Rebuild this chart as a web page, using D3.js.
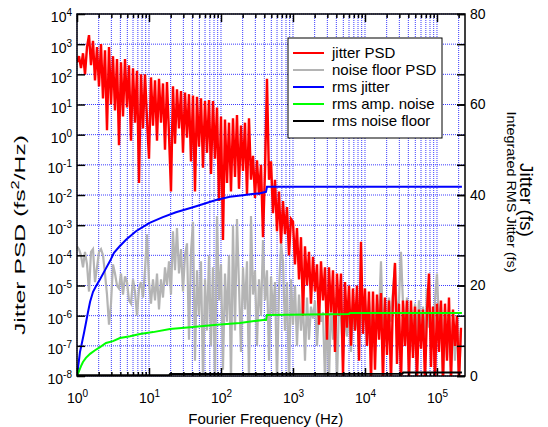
<!DOCTYPE html>
<html lang="en">
<head>
<meta charset="UTF-8">
<title>Jitter PSD</title>
<script src="https://d3js.org/d3.v7.min.js"></script>
<style>
  body { margin: 0; background: #fff; }
  svg text { font-family: "Liberation Sans", Arial, sans-serif; fill: #000; }
</style>
</head>
<body>
<div id="chart"></div>
<script>
// frequency grid (Hz) shared by both PSD traces
const freqHz = [
  1, 1.066, 1.136, 1.212, 1.292, 1.377, 1.468, 1.565, 1.668, 1.778, 1.896, 2.021, 2.154, 2.297, 2.448, 2.61, 2.783, 2.967, 3.162, 3.372, 3.594, 3.831, 4.084, 4.354, 4.642, 4.949, 5.275, 5.623, 5.995, 6.391, 6.813, 7.264, 7.743, 8.254, 8.799, 9.381,
  10, 10.66, 11.36, 12.12, 12.92, 13.77, 14.68, 15.65, 16.68, 17.78, 18.96, 20.21, 21.54, 22.97, 24.48, 26.1, 27.83, 29.67, 31.62, 33.72, 35.94, 38.31, 40.84, 43.54, 46.42, 49.49, 52.75, 56.23, 59.95, 63.91, 68.13, 72.64, 77.43, 82.54, 87.99, 93.81,
  100, 106.6, 113.6, 121.2, 129.2, 137.7, 146.8, 156.5, 166.8, 177.8, 189.6, 202.1, 215.4, 229.7, 244.8, 261, 278.3, 296.7, 316.2, 337.2, 359.4, 383.1, 408.4, 435.4, 464.2, 494.9, 527.5, 562.3, 599.5, 639.1, 681.3, 726.4, 774.3, 825.4, 879.9, 938.1,
  1000, 1066, 1136, 1212, 1292, 1377, 1468, 1565, 1668, 1778, 1896, 2021, 2154, 2297, 2448, 2610, 2783, 2967, 3162, 3372, 3594, 3831, 4084, 4354, 4642, 4949, 5275, 5623, 5995, 6391, 6813, 7264, 7743, 8254, 8799, 9381,
  10000, 10660, 11360, 12120, 12920, 13770, 14680, 15650, 16680, 17780, 18960, 20210, 21540, 22970, 24480, 26100, 27830, 29670, 31620, 33720, 35940, 38310, 40840, 43540, 46420, 49490, 52750, 56230, 59950, 63910, 68130, 72640, 77430, 82540, 87990, 93810,
  1e5, 1.066e5, 1.136e5, 1.212e5, 1.292e5, 1.377e5, 1.468e5, 1.565e5, 1.668e5, 1.778e5, 1.896e5, 2.021e5, 2.154e5
];

// jitter PSD (fs^2/Hz)
const jitterPsd = [
  2.5e2, 4e2, 1.6e2, 5e2, 1e2, 8e2, 2e3, 2e2, 1.3e3, 63, 8e2, 40, 1e3, 16, 6.3e2, 1.4, 8e2, 10, 4e2, 6.3, 3.2e2, 0.45, 2.5e2, 4, 3.2e2, 8, 2e2, 0.63, 1.6e2, 2.5, 1.3e2, 0.025, 1e2, 1.6, 1e2, 3.2,
  0.16, 79, 2, 63, 0.63, 71, 2.5, 50, 0.32, 56, 1, 0.013, 40, 0.5, 32, 1.6, 28, 0.25, 25, 0.8, 22, 0.13, 20, 0.013, 18, 0.4, 16, 0.08, 13, 0.25, 14, 0.05, 13, 0.16, 8, 0.0063,
  4, 3.2e-4, 3.2, 0.025, 2.5, 0.013, 3.5, 0.04, 4.5, 0.016, 2, 0.063, 2.5, 0.01, 3.5, 0.032, 0.2, 0.008, 0.14, 0.01, 0.1, 4e-4, 0.063, 71, 0.032, 0.13, 2.5e-3, 0.032, 6.3e-4, 0.013, 2.5e-4, 6.3e-3, 5e-4, 4e-3, 1e-4, 1.6e-3,
  1.3e-3, 5e-5, 8e-4, 1.6e-5, 4e-4, 1e-6, 2e-4, 1e-5, 1.3e-4, 2.5e-6, 9e-5, 6.3e-6, 5e-5, 5e-7, 6.3e-5, 3.2e-6, 4e-5, 1.6e-7, 4e-5, 1.3e-6, 3.2e-5, 6.3e-8, 2.5e-5, 1e-6, 2.5e-5, 1e-8, 1.3e-5, 4e-7, 1e-5, 1e-7, 8e-6, 3.2e-7, 1e-5, 3.2e-8, 2.8e-4, 2.5e-7,
  8e-6, 1e-7, 6.3e-6, 6.3e-9, 6.3e-6, 1.6e-8, 5e-6, 1.6e-7, 5.6e-6, 6.3e-9, 4e-6, 5e-8, 3.2e-6, 6.3e-9, 4e-6, 5.6e-5, 2.5e-8, 2.5e-6, 6.3e-9, 3.2e-6, 1e-7, 3.2e-6, 6.3e-9, 3.2e-6, 4e-8, 2e-6, 6.3e-9, 1.6e-6, 8e-8, 1.6e-6, 6.3e-9, 1.3e-6, 2.5e-5, 2e-8, 2e-6, 6.3e-9,
  2.5e-6, 6.3e-8, 3.2e-6, 6.3e-9, 2.5e-6, 3.2e-8, 4e-6, 6.3e-9, 1.6e-6, 1e-7, 1e-6, 6.3e-9, 4e-7
];

// noise floor PSD (fs^2/Hz)
const noiseFloorPsd = [
  2e-4, 1.6e-4, 1e-4, 4e-5, 1.3e-4, 5e-5, 6.3e-6, 1.3e-4, 1.6e-4, 1.3e-5, 4e-5, 1.3e-4, 1.6e-4, 1e-4, 2.5e-5, 5e-6, 5e-7, 2.5e-6, 5e-5, 2.5e-5, 1e-5, 8e-6, 2.5e-5, 5e-6, 2e-5, 1.3e-5, 3.2e-6, 2.5e-6, 1.6e-5, 6.3e-6, 1e-6, 8e-6, 1.3e-5, 4e-6, 3.2e-5, 5e-4,
  1.3e-5, 2.5e-6, 1.6e-5, 3.2e-6, 2.5e-5, 1.6e-6, 1.6e-5, 4e-6, 4e-5, 1e-5, 6.3e-5, 5e-6, 6.3e-4, 3.2e-5, 8e-4, 2.5e-5, 1.6e-4, 6.3e-6, 1e-4, 2.5e-4, 1.6e-7, 1.3e-4, 1.3e-3, 3.2e-8, 3.2e-5, 1e-6, 6.3e-5, 6.3e-9, 1.6e-5, 3.2e-7, 1e-4, 1e-7, 4e-5, 6.3e-9, 2e-3, 3.2e-6,
  5e-5, 1.6e-8, 2.5e-5, 6.3e-7, 1e-4, 6.3e-9, 1e-3, 3.2e-7, 1.6e-3, 1e-5, 6.3e-8, 4e-5, 1.6e-6, 6.3e-5, 6.3e-9, 2e-3, 5e-6, 3.2e-5, 1e-7, 1.6e-5, 1e-6, 3.2e-4, 3.2e-6, 3.2e-5, 3.2e-8, 2e-5, 1e-6, 1.3e-5, 6.3e-9, 6.3e-6, 2.5e-4, 6.3e-5, 3.2e-7, 1.3e-5, 6.3e-9, 1.6e-5,
  5e-7, 1e-5, 1e-7, 5e-6, 3.2e-7, 3.2e-6, 3.2e-8, 4e-6, 1.6e-7, 2e-6, 8e-7, 3.2e-6, 1e-7, 1.6e-6, 6.3e-7, 1.3e-6, 6.3e-9, 2e-6, 6.3e-9, 3.2e-6, 1.6e-7, 4e-6, 6.3e-9, 2.5e-6, 1e-6, 3.2e-8, 1.6e-6, 2e-7, 1.3e-6, 6.3e-8, 2e-6, 3.2e-7, 1.6e-6, 1e-7, 3.2e-6, 5e-7,
  2.5e-6, 1e-7, 3.2e-6, 4e-7, 1.6e-6, 6.3e-8, 2.5e-6, 1e-6, 6.3e-5, 2.5e-7, 2.5e-6, 1e-7, 4e-6, 6.3e-7, 6.3e-6, 5e-5, 1e-6, 3.2e-6, 1.3e-4, 2.5e-6, 1e-7, 4e-6, 3.2e-7, 1.6e-6, 6.3e-8, 2.5e-6, 1.6e-7, 3.2e-6, 3.2e-7, 2e-6, 8e-8, 8e-6, 4e-7, 1.3e-6, 1e-7, 3.2e-6,
  2.5e-5, 5e-7, 2.5e-6, 6.3e-9, 1.6e-6, 4e-8, 1e-6, 2e-8, 6.3e-7, 3.2e-8, 1e-6, 6.3e-9, 3.2e-7
];

// integrated rms curves (fs), right axis
const rmsJitterFreq = [1, 1.032, 1.066, 1.1, 1.17, 1.25, 1.33, 1.42, 1.52, 1.67, 1.84, 2.09, 2.45, 2.87, 3.26, 3.83, 4.79, 6.59, 10, 15.6, 23.7, 40.8, 85.3, 133, 215, 270, 348, 422, 435, 2.22e5];
const rmsJitter = [0, 1.8, 3.5, 5.3, 7.3, 9.5, 11.7, 14.1, 16.4, 18.6, 19.9, 21.4, 23.4, 25.4, 27.2, 28.5, 30.1, 32.0, 33.8, 35.1, 36.2, 37.3, 38.9, 39.6, 40.0, 40.2, 40.4, 40.7, 41.8, 41.8];

const rmsAmpFreq = [1, 1.066, 1.137, 1.21, 1.33, 1.52, 1.78, 2.09, 2.53, 3.16, 3.95, 5.45, 7.5, 11.4, 19.6, 37.2, 88, 183, 383, 422, 435, 5980, 6180, 2.22e5];
const rmsAmpNoise = [0, 1.1, 2.2, 3.1, 4.0, 4.9, 5.7, 6.4, 7.3, 7.7, 8.4, 8.8, 9.3, 9.7, 10.4, 10.8, 11.3, 11.7, 12.4, 12.4, 13.5, 13.7, 13.9, 13.9];

const rmsFloorFreq = [1, 19, 19.6, 33000, 34000, 2.22e5];
const rmsNoiseFloor = [0.15, 0.2, 0.45, 0.5, 0.75, 0.75];

const freqTicks = [1e0, 1e1, 1e2, 1e3, 1e4, 1e5];
const psdTicks = [1e-8, 1e-7, 1e-6, 1e-5, 1e-4, 1e-3, 1e-2, 1e-1, 1e0, 1e1, 1e2, 1e3, 1e4];
const rmsTicks = [0, 20, 40, 60, 80];

const legendNames = ["jitter PSD", "noise floor PSD", "rms jitter", "rms amp. noise", "rms noise floor"];
const legendColors = ["#ff0000", "#b4b4b4", "#0000ff", "#00ff00", "#000000"];

// layout
const W = 548, H = 427;
const margin = { top: 14, right: 83, bottom: 51, left: 77 };
const width = W - margin.left - margin.right;
const height = H - margin.top - margin.bottom;

const x = d3.scaleLog().domain([1, 2.45e5]).range([0, width]);
const yL = d3.scaleLog().domain([1e-8, 1e4]).range([height, 0]);
const yR = d3.scaleLinear().domain([0, 80]).range([height, 0]);

const svg = d3.select("#chart").append("svg")
    .attr("width", W)
    .attr("height", H);

const g = svg.append("g")
    .attr("transform", "translate(" + margin.left + "," + margin.top + ")");

g.append("clipPath").attr("id", "plot-clip")
    .append("rect").attr("width", width).attr("height", height);

// grid
const gridColor = "#2828ff";
const allFreqTicks = x.ticks();
g.append("g").selectAll("line").data(allFreqTicks).join("line")
    .attr("x1", d => x(d)).attr("x2", d => x(d))
    .attr("y1", 0).attr("y2", height)
    .attr("stroke", gridColor).attr("stroke-width", 1)
    .attr("stroke-dasharray", "1,1").attr("opacity", 0.9);
g.append("g").selectAll("line").data(psdTicks).join("line")
    .attr("x1", 0).attr("x2", width)
    .attr("y1", d => yL(d)).attr("y2", d => yL(d))
    .attr("stroke", gridColor).attr("stroke-width", 1)
    .attr("stroke-dasharray", "1,1").attr("opacity", 0.9);

// data
const plot = g.append("g").attr("clip-path", "url(#plot-clip)");

const psdLine = d3.line()
    .x((d, i) => x(freqHz[i]))
    .y(d => yL(d));

plot.append("path").datum(noiseFloorPsd)
    .attr("fill", "none").attr("stroke", legendColors[1]).attr("stroke-width", 2.2)
    .attr("d", psdLine);
plot.append("path").datum(jitterPsd)
    .attr("fill", "none").attr("stroke", legendColors[0]).attr("stroke-width", 2.4)
    .attr("d", psdLine);

function rmsLine(freqs) {
    return d3.line().x((d, i) => x(freqs[i])).y(d => yR(d));
}
plot.append("path").datum(rmsJitter)
    .attr("fill", "none").attr("stroke", legendColors[2]).attr("stroke-width", 2)
    .attr("d", rmsLine(rmsJitterFreq));
plot.append("path").datum(rmsAmpNoise)
    .attr("fill", "none").attr("stroke", legendColors[3]).attr("stroke-width", 2)
    .attr("d", rmsLine(rmsAmpFreq));
plot.append("path").datum(rmsNoiseFloor)
    .attr("fill", "none").attr("stroke", legendColors[4]).attr("stroke-width", 2)
    .attr("d", rmsLine(rmsFloorFreq));

// axes
function powLabels(sel) {
    sel.selectAll(".tick text").each(function (d) {
        const t = d3.select(this).text(null);
        t.append("tspan").text("10");
        t.append("tspan").attr("dy", -6).attr("font-size", "10px")
            .text(Math.round(Math.log10(d)));
    });
}
function styleAxis(sel) {
    sel.select(".domain").remove();
    sel.selectAll(".tick line").attr("stroke", "#000").attr("stroke-width", 1.5);
    sel.selectAll("text").attr("font-size", "14px")
        .attr("font-family", "'Liberation Sans', Arial, sans-serif");
}

const minorFreq = allFreqTicks.filter(d => !freqTicks.includes(d));

g.append("g").attr("transform", "translate(0," + height + ")")
    .call(d3.axisBottom(x).tickValues(freqTicks).tickSize(-8).tickPadding(17).tickFormat(() => ""))
    .call(styleAxis).call(powLabels);
g.append("g").attr("transform", "translate(0," + height + ")")
    .call(d3.axisBottom(x).tickValues(minorFreq).tickSize(-4).tickFormat(() => ""))
    .call(styleAxis);
g.append("g")
    .call(d3.axisTop(x).tickValues(freqTicks).tickSize(-8).tickFormat(() => ""))
    .call(styleAxis);
g.append("g")
    .call(d3.axisTop(x).tickValues(minorFreq).tickSize(-4).tickFormat(() => ""))
    .call(styleAxis);

const yLeft = g.append("g")
    .call(d3.axisLeft(yL).tickValues(psdTicks).tickSize(-8).tickPadding(5).tickFormat(() => ""))
    .call(styleAxis).call(powLabels);
yLeft.selectAll(".tick text").attr("dy", "0.57em");

g.append("g").attr("transform", "translate(" + width + ",0)")
    .call(d3.axisRight(yL).tickValues(psdTicks).tickSize(-8).tickFormat(() => ""))
    .call(styleAxis);
g.append("g").attr("transform", "translate(" + width + ",0)")
    .call(d3.axisRight(yR).tickValues(rmsTicks).tickSize(-8).tickPadding(5))
    .call(styleAxis);

// frame
g.append("rect")
    .attr("width", width).attr("height", height)
    .attr("fill", "none").attr("stroke", "#000").attr("stroke-width", 1.5);

// axis titles
svg.append("text")
    .attr("x", margin.left + x(420)).attr("y", 424)
    .attr("text-anchor", "middle").attr("font-size", "15px")
    .text("Fourier Frequency (Hz)");

const leftTitle = svg.append("text")
    .attr("transform", "translate(20,235) rotate(-90)")
    .attr("text-anchor", "middle").attr("dy", "0.35em")
    .attr("font-size", "15px")
    .attr("textLength", 200).attr("lengthAdjust", "spacingAndGlyphs");
leftTitle.append("tspan").text("Jitter PSD (fs");
leftTitle.append("tspan").attr("dy", -6).attr("font-size", "10px").text("2");
leftTitle.append("tspan").attr("dy", 6).text("/Hz)");

svg.append("text")
    .attr("transform", "translate(512,192) rotate(90)")
    .attr("text-anchor", "middle").attr("dy", "0.35em")
    .attr("font-size", "13px")
    .attr("textLength", 161).attr("lengthAdjust", "spacingAndGlyphs")
    .text("Integrated RMS Jitter (fs)");

svg.append("text")
    .attr("transform", "translate(527,200) rotate(90)")
    .attr("text-anchor", "middle").attr("dy", "0.35em")
    .attr("font-size", "19px")
    .text("Jitter (fs)");

// legend
const legend = svg.append("g").attr("transform", "translate(288,38)");
legend.append("rect")
    .attr("width", 154).attr("height", 100)
    .attr("fill", "#fff").attr("stroke", "#000").attr("stroke-width", 1);
const rows = legend.selectAll("g.row").data(legendNames).join("g")
    .attr("class", "row")
    .attr("transform", (d, i) => "translate(0," + (15 + i * 17) + ")");
rows.append("line")
    .attr("x1", 5).attr("x2", 36).attr("y1", 0).attr("y2", 0)
    .attr("stroke", (d, i) => legendColors[i]).attr("stroke-width", 2);
rows.append("text")
    .attr("x", 44).attr("dy", "0.35em").attr("font-size", "15px")
    .text(d => d);
</script>
</body>
</html>
